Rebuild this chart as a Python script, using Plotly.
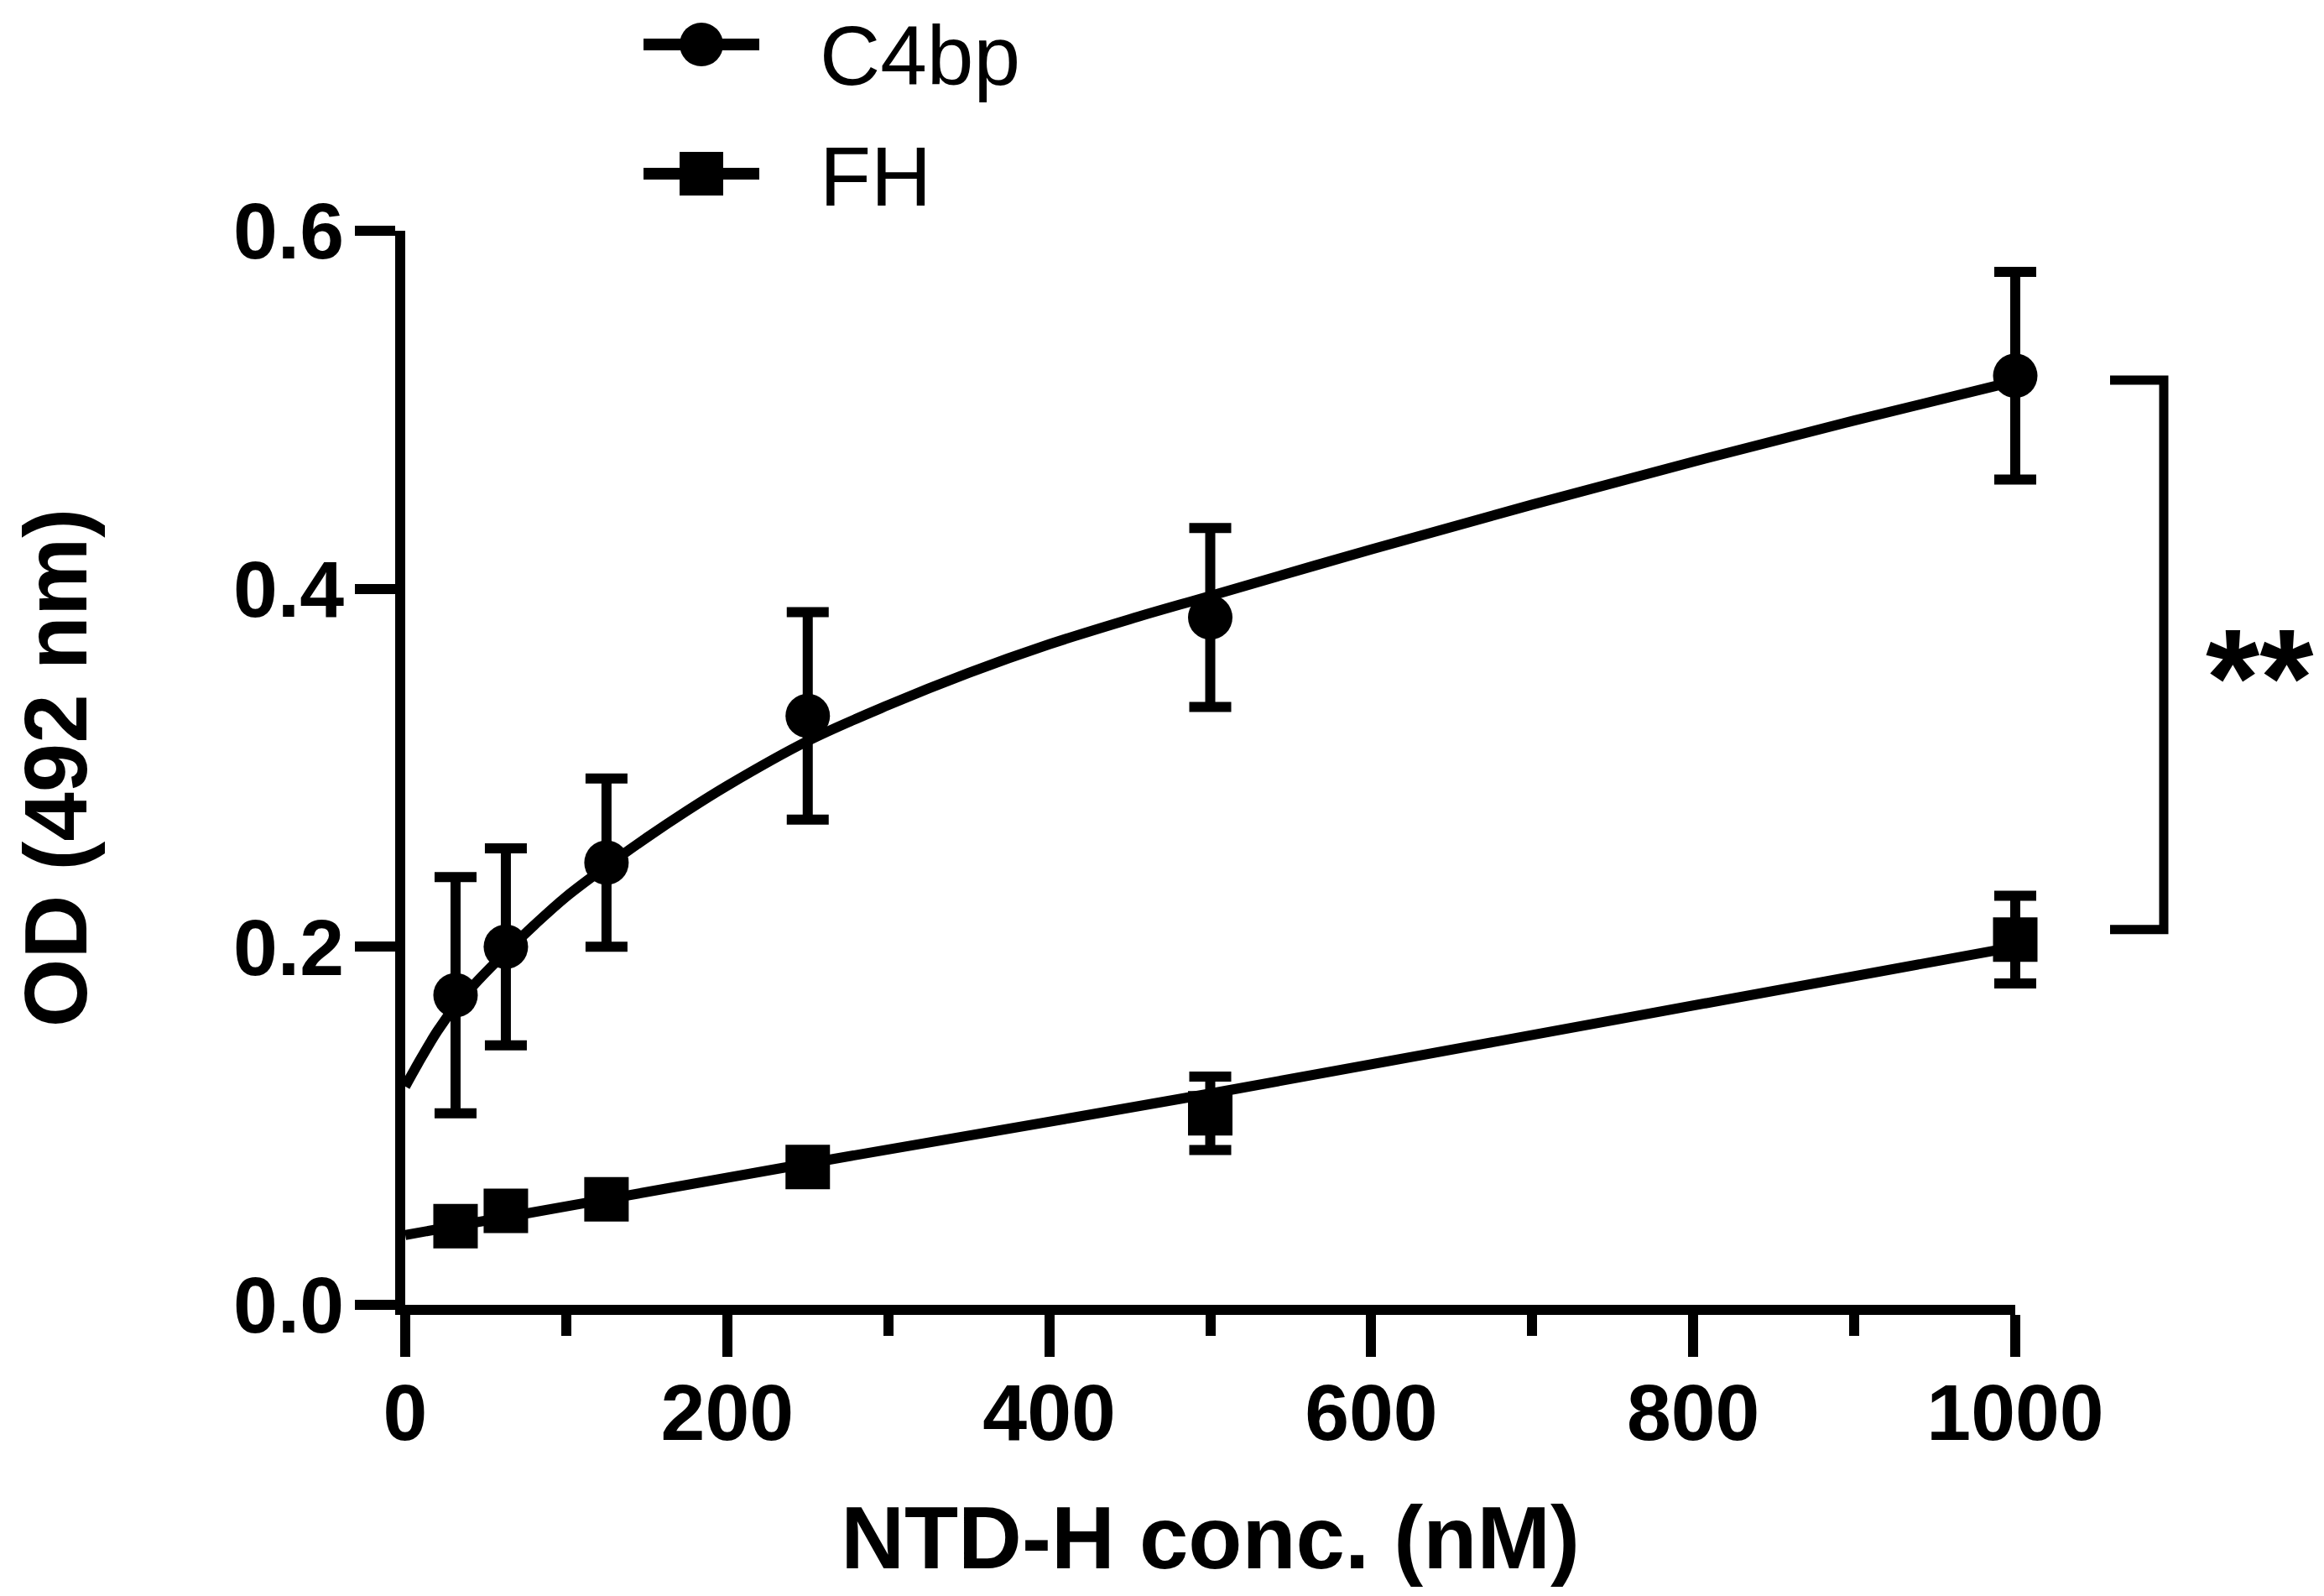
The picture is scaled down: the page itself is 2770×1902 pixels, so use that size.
import plotly.graph_objects as go

# ---------------- data ----------------
conc = [31.25, 62.5, 125, 250, 500, 1000]          # NTD-H conc. (nM)

c4bp_mean = [0.173, 0.200, 0.247, 0.329, 0.384, 0.519]
c4bp_sd = [0.066, 0.055, 0.047, 0.058, 0.050, 0.058]

fh_mean = [0.044, 0.0525, 0.059, 0.077, 0.107, 0.204]
fh_sd = [0.005, 0.005, 0.005, 0.006, 0.0205, 0.0245]

# fitted curves
c4bp_fit_x = [0, 10, 20, 31.25, 45, 62.5, 80, 100, 125, 150, 175, 200, 250, 300, 350, 400,
              450, 500, 600, 700, 800, 900, 1000]
c4bp_fit_y = [0.122, 0.138, 0.153, 0.167, 0.181, 0.197, 0.212, 0.228, 0.245, 0.261, 0.276,
              0.290, 0.315, 0.335, 0.353, 0.369, 0.383, 0.396, 0.422, 0.447, 0.471, 0.494, 0.516]
fh_fit_x = [0, 31.25, 62.5, 125, 250, 500, 750, 1000]
fh_fit_y = [0.039, 0.044, 0.049, 0.059, 0.079, 0.118, 0.159, 0.200]

x_ticks = [0, 200, 400, 600, 800, 1000]
y_ticks = [0.0, 0.2, 0.4, 0.6]
x_range = [0, 1000]
y_range = [0, 0.6]

series_names = ["C4bp", "FH"]
signif_label = "**"
bracket_top = 0.5166
bracket_bottom = 0.2097

# ---------------- style / layout ----------------
W, H = 2762, 1894            # page has an 8 px body margin
ML, MT, MB = 475, 267, 347
PLOT_W = 1919                 # width of the 0..1000 axis in px
EXTRA = 40                    # room on the right so end caps are not clipped
MR = W - ML - PLOT_W - EXTRA
PAPER_W = PLOT_W + EXTRA
DOM = PLOT_W / PAPER_W
X2_MAX = x_range[1] / DOM

FONT = "Liberation Sans"
BLACK = "black"
CLEAR = "rgba(0,0,0,0)"
MSIZE = 53
LW_FIT = 12
LW_AX = 12


def xp(px):      # page x pixel -> paper
    return (px - 483) / PAPER_W


def ypx(py):     # page y pixel -> paper
    return (1555 - py) / 1280


def ypaper(v):   # data y -> paper
    return (v - y_range[0]) / (y_range[1] - y_range[0])


fig = go.Figure()

# fitted curves (on the visible 0..1000 axis)
for fx, fy in [(c4bp_fit_x, c4bp_fit_y), (fh_fit_x, fh_fit_y)]:
    fig.add_trace(go.Scatter(x=fx, y=fy, mode="lines", xaxis="x", yaxis="y",
                             line=dict(color=BLACK, width=LW_FIT, shape="spline"),
                             showlegend=False, cliponaxis=False, hoverinfo="skip"))

# data points with SD error bars (same scale, slightly wider clip area for end caps)
for nm, mean, sd, sym in [(series_names[0], c4bp_mean, c4bp_sd, "circle"),
                          (series_names[1], fh_mean, fh_sd, "square")]:
    fig.add_trace(go.Scatter(x=conc, y=mean, mode="markers", name=nm, xaxis="x2", yaxis="y",
                             marker=dict(symbol=sym, size=MSIZE, color=BLACK, line=dict(width=0)),
                             error_y=dict(type="data", array=sd, visible=True, color=BLACK,
                                          thickness=12, width=25),
                             showlegend=False, cliponaxis=False))

# ---- legend (drawn: line + big symbol + label) ----
leg_x0, leg_x1, leg_xc = xp(767), xp(905), xp(836)
leg_text_x = xp(975)
leg_rows = [(series_names[0], "circle", ypx(53), ypx(66)),
            (series_names[1], "rect", ypx(207), ypx(210))]
for nm, shp, yy, yt in leg_rows:
    fig.add_shape(type="line", xref="paper", yref="paper", x0=leg_x0, x1=leg_x1, y0=yy, y1=yy,
                  line=dict(color=BLACK, width=14))
    fig.add_shape(type=shp, xref="paper", yref="paper", xsizemode="pixel", ysizemode="pixel",
                  xanchor=leg_xc, yanchor=yy, x0=-26, x1=26, y0=-26, y1=26,
                  fillcolor=BLACK, line=dict(width=0))
    fig.add_annotation(text=nm, xref="paper", yref="paper", x=leg_text_x, y=yt,
                       xanchor="left", yanchor="middle", showarrow=False,
                       font=dict(family=FONT, size=100, color=BLACK))

# significance bracket
xa, xv = xp(2515), xp(2579)
fig.add_shape(type="path", xref="paper", yref="paper",
              path=f"M {xa},{ypaper(bracket_top)} L {xv},{ypaper(bracket_top)} "
                   f"L {xv},{ypaper(bracket_bottom)} L {xa},{ypaper(bracket_bottom)}",
              line=dict(color=BLACK, width=11))
fig.add_annotation(text=signif_label, xref="paper", yref="paper", x=xp(2693), y=0.5836,
                   xanchor="center", yanchor="middle", showarrow=False,
                   font=dict(family=FONT, size=165, color=BLACK, weight="bold"))

tickfont = dict(family=FONT, size=95, color=BLACK, weight="bold")
titlefont = dict(family=FONT, size=105, color=BLACK, weight="bold")

fig.update_layout(
    width=W, height=H,
    margin=dict(l=ML, r=MR, t=MT, b=MB, autoexpand=False),
    paper_bgcolor="white", plot_bgcolor=CLEAR,
    showlegend=False,
    xaxis=dict(domain=[0, DOM], range=x_range, tickvals=x_ticks, ticktext=[str(v) for v in x_ticks],
               anchor="y",
               showgrid=False, zeroline=False, showline=True, linecolor=BLACK, linewidth=LW_AX,
               ticks="outside", ticklen=50, tickwidth=12, tickcolor=BLACK,
               minor=dict(dtick=100, tick0=0, ticks="outside", ticklen=25, tickwidth=12,
                          tickcolor=BLACK, showgrid=False),
               tickfont=tickfont, ticklabelstandoff=-15,
               title=dict(text="NTD-H conc. (nM)", font=titlefont, standoff=65)),
    xaxis2=dict(domain=[0, 1], range=[0, X2_MAX], anchor="y", visible=False,
                showgrid=False, zeroline=False),
    yaxis=dict(range=y_range, tickvals=y_ticks, tickformat=".1f", anchor="x",
               showgrid=False, zeroline=False, showline=True, linecolor=BLACK, linewidth=LW_AX,
               ticks="outside", ticklen=48, tickwidth=12, tickcolor=BLACK,
               tickfont=tickfont, ticklabelstandoff=-6,
               title=dict(text="OD (492 nm)", font=titlefont, standoff=171)),
)

fig.write_html("out.html")
